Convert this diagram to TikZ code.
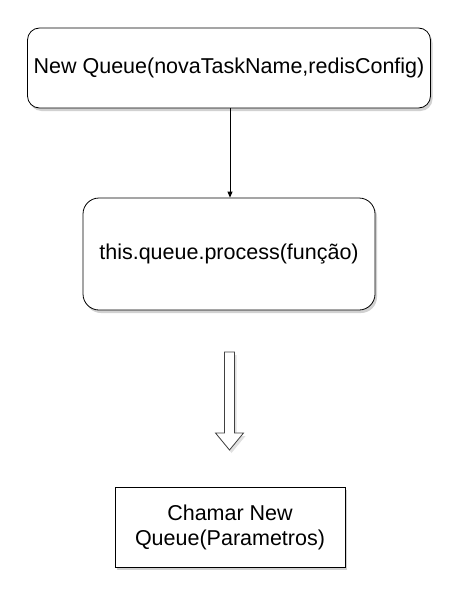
\documentclass[tikz,border=0pt]{standalone}
\usepackage{fontspec}
\setmainfont{Liberation Sans}
\usetikzlibrary{shadows,arrows.meta}
\begin{document}
\begin{tikzpicture}[x=1pt,y=-1pt,
  box/.style={draw=black, fill=white, line width=0.8pt,
    drop shadow={shadow xshift=2pt,shadow yshift=-3pt,opacity=0.3,fill=black!60},
    align=center, inner sep=0pt, font=\fontsize{21.5}{25}\selectfont},
  conn/.style={draw=black, line width=0.8pt, -{Triangle[length=6pt,width=5pt]}},
  blockarrow/.style={draw=black!75, fill=white, line width=0.8pt, line join=miter,
    drop shadow={shadow xshift=2pt,shadow yshift=-3pt,opacity=0.2,fill=black!60}},
]
\useasboundingbox (0,0) rectangle (467,602);
\node[box, rounded corners=12pt, minimum width=403pt, minimum height=80pt] (q) at (229,68) {New Queue(novaTaskName,redisConfig)};
\node[box, rounded corners=16pt, minimum width=292pt, minimum height=112pt] (p) at (229,254) {this.queue.process(função)};
\node[box, minimum width=230pt, minimum height=80pt] (c) at (230,527) {Chamar New\\Queue(Parametros)};
\draw[conn] ([xshift=1pt]q.south) -- ([xshift=1pt]p.north);
\path[blockarrow] (224.5,352) -- (234.5,352) -- (234.5,433) -- (243.5,433) -- (229.5,450) -- (215.5,433) -- (224.5,433) -- cycle;
\end{tikzpicture}
\end{document}
